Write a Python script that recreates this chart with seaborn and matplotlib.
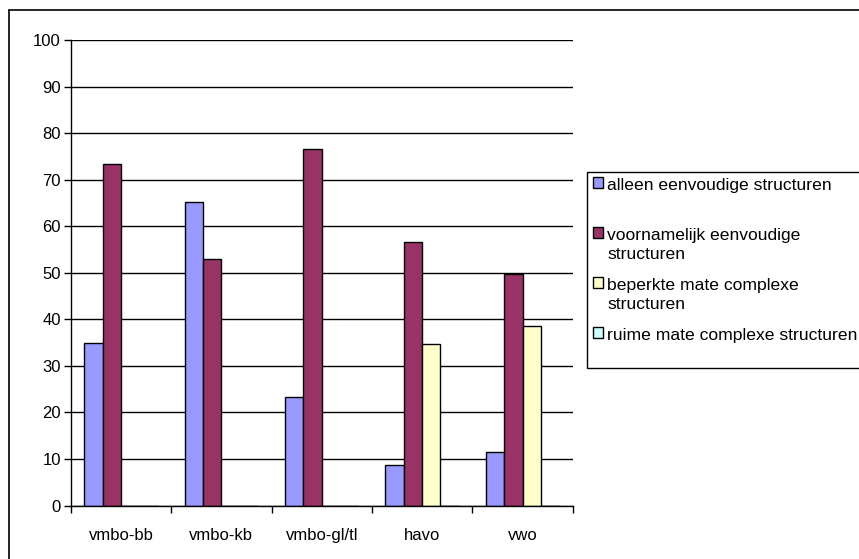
import matplotlib
matplotlib.use("Agg")
import matplotlib.pyplot as plt
import matplotlib.patches as mpatches
from matplotlib.legend_handler import HandlerPatch
from matplotlib.lines import Line2D
import seaborn as sns
import pandas as pd

# Schooltypes en aandeel leerlingen per soort zinsstructuur (%)
niveaus = ["vmbo-bb", "vmbo-kb", "vmbo-gl/tl", "havo", "vwo"]
structuren = [
    "alleen eenvoudige structuren",
    "voornamelijk eenvoudige\nstructuren",
    "beperkte mate complexe\nstructuren",
    "ruime mate complexe structuren",
]
alleen_eenvoudig = [35.0, 65.1, 23.4, 8.8, 11.5]
voornamelijk_eenvoudig = [73.3, 53.0, 76.6, 56.5, 49.8]
beperkt_complex = [0.0, 0.0, 0.0, 34.6, 38.6]
ruim_complex = [0.0, 0.0, 0.0, 0.0, 0.0]
kleuren = ["#9999FF", "#993366", "#FFFFCC", "#CCFFFF"]
y_ticks = list(range(0, 101, 10))

reeksen = [alleen_eenvoudig, voornamelijk_eenvoudig, beperkt_complex, ruim_complex]
rows = []
for naam, waarden in zip(structuren, reeksen):
    for niv, w in zip(niveaus, waarden):
        rows.append({"niveau": niv, "percentage": w, "structuur": naam})
df = pd.DataFrame(rows)

sns.set_theme(style="white")
plt.rcParams["font.family"] = ["Liberation Sans", "DejaVu Sans"]

W, H = 859, 559
fig = plt.figure(figsize=(W / 100, H / 100), dpi=100)
ax = fig.add_axes([70.7 / W, 1 - 505.5 / H, (572.7 - 70.7) / W, (505.5 - 40) / H])

sns.barplot(
    data=df, x="niveau", y="percentage", hue="structuur",
    order=niveaus, hue_order=structuren, palette=kleuren,
    saturation=1, width=0.733, edgecolor="black", linewidth=1.0,
    ax=ax, legend=True, zorder=3,
)

ax.set_ylim(0, 100)
ax.set_xlim(-0.5, len(niveaus) - 0.5)
ax.set_yticks(y_ticks)
ax.set_yticklabels([str(t) for t in y_ticks], fontsize=12, color="black")
ax.set_xlabel("")
ax.set_ylabel("")
ax.tick_params(axis="x", which="major", length=0, pad=16, labelsize=12, labelcolor="black")
ax.set_xticks([i - 0.5 for i in range(len(niveaus) + 1)], minor=True)
ax.tick_params(axis="x", which="minor", length=5, width=1, color="black", direction="out", bottom=True)
ax.tick_params(axis="y", length=5, width=1, color="black", direction="out", left=True, pad=2)

ax.grid(axis="y", color="black", linewidth=1.0, zorder=0)
ax.grid(axis="x", visible=False)
ax.set_axisbelow(True)
for side in ["top", "right"]:
    ax.spines[side].set_visible(False)
for side in ["left", "bottom"]:
    ax.spines[side].set_color("black")
    ax.spines[side].set_linewidth(1.0)
    ax.spines[side].set_zorder(4)

# Legenda rechts naast het diagram; het kleurvakje staat bij de eerste regel
LEG_FS = 12.6
REGELAFSTAND = 1.37


def vakje_bovenaan(legend, orig_handle, xdescent, ydescent, width, height, fontsize):
    shift = 0.5 * 1.05 * REGELAFSTAND * fontsize
    return mpatches.Rectangle((-xdescent, -ydescent + shift), width, height)


handles, labels = ax.get_legend_handles_labels()
labels = [labels[0] + "\n ", labels[1], labels[2], labels[3] + "    \n "]
leg = ax.legend(
    handles, labels,
    loc="upper left", bbox_to_anchor=(587 / W, 1 - 172 / H),
    bbox_transform=fig.transFigure,
    fontsize=LEG_FS, frameon=True, fancybox=False, framealpha=1,
    edgecolor="black", borderpad=0.32, labelspacing=0.9,
    handlelength=0.6, handleheight=0.6, handletextpad=0.25,
    borderaxespad=0,
    handler_map={type(handles[0]): HandlerPatch(patch_func=vakje_bovenaan)},
)
leg.get_frame().set_linewidth(1.0)
for t in leg.get_texts():
    t.set_linespacing(REGELAFSTAND)
    t.set_color("black")

# Kader rond het diagramgebied
fig.add_artist(Line2D([9 / W, 9 / W], [-0.1, 1 - 10 / H], color="black", lw=1.2, transform=fig.transFigure))
fig.add_artist(Line2D([9 / W, 1.1], [1 - 10 / H, 1 - 10 / H], color="black", lw=1.2, transform=fig.transFigure))

fig.savefig("out.png", dpi=100, facecolor="white")
